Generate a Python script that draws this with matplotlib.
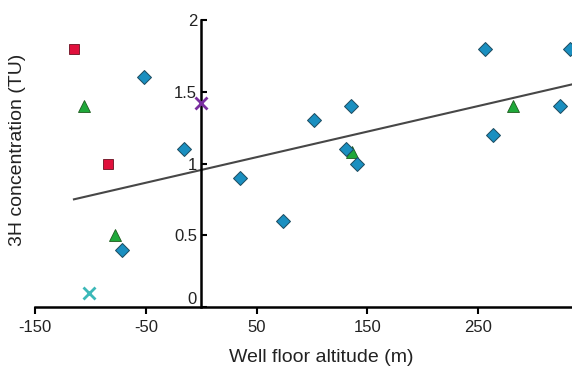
import matplotlib

matplotlib.use("Agg")
import matplotlib.pyplot as plt
import matplotlib.transforms as mtransforms

# well floor altitude (m) vs 3H concentration (TU), grouped by marker
diamond_x = [-52, -16, -72, 35, 74, 102, 135, 131, 141, 256, 264, 324, 333]
diamond_y = [1.6, 1.1, 0.4, 0.9, 0.6, 1.3, 1.4, 1.1, 1.0, 1.8, 1.2, 1.4, 1.8]
triangle_x = [-106, -78, 136, 282]
triangle_y = [1.4, 0.5, 1.08, 1.4]
square_x = [-115, -84]
square_y = [1.8, 1.0]
cross_purple = (0, 1.42)
cross_teal = (-101, 0.1)

# regression line end points
fit_x = [-115, 336]
fit_slope = 0.00178
fit_intercept = 0.955
fit_y = [fit_intercept + fit_slope * v for v in fit_x]

x_ticks = [-150, -50, 50, 150, 250]
y_ticks = [0, 0.5, 1, 1.5, 2]
y_tick_labels = ["0", "0.5", "1", "1.5", "2"]

plt.rcParams["font.family"] = ["Liberation Sans", "DejaVu Sans"]

fig = plt.figure(figsize=(5.72, 3.70), dpi=100)
ax = fig.add_axes([33 / 572, 1 - 307 / 370, 539 / 572, 287 / 370])
ax.set_xlim(-152, 335)
ax.set_ylim(0, 2)

ax.plot(fit_x, fit_y, color="#474747", lw=1.5, zorder=2)
ax.plot(triangle_x, triangle_y, "^", ms=8.8, color="#1fa83a",
        mec="#1e5a1e", mew=0.6, zorder=3)
ax.plot(diamond_x, diamond_y, "D", ms=7.4, color="#1a8fc0",
        mec="#1d4a5e", mew=0.7, zorder=4, clip_on=False)
ax.plot(square_x, square_y, "s", ms=7.4, color="#e0103c",
        mec="#6a1020", mew=0.6, zorder=3)
ax.plot(*cross_purple, "x", ms=8, mew=2, color="#7a2fa0", zorder=5,
        clip_on=False)
ax.plot(*cross_teal, "x", ms=8, mew=2, color="#3cb8b8", zorder=5)

for side in ("top", "right"):
    ax.spines[side].set_visible(False)
ax.spines["left"].set_position(("data", 0))
ax.spines["bottom"].set_position(("data", 0))
ax.spines["left"].set_linewidth(1.8)
ax.spines["bottom"].set_linewidth(1.8)
ax.spines["bottom"].set_bounds(-150, 335)

ax.set_xticks(x_ticks)
ax.set_xticklabels([str(v) for v in x_ticks])
ax.set_yticks(y_ticks)
ax.set_yticklabels(y_tick_labels)
ax.tick_params(axis="x", direction="out", length=5, width=1.5,
               labelsize=12, pad=4, labelcolor="#222222")
ax.tick_params(axis="y", direction="in", length=4, width=1.5,
               labelsize=12, pad=3, labelcolor="#222222")

# the "0" label sits a little above the x axis
zero_label = ax.get_yticklabels()[0]
zero_label.set_transform(zero_label.get_transform() +
                         mtransforms.ScaledTranslation(0, 9 / 100, fig.dpi_scale_trans))

fig.text(321 / 572, 1 - 357 / 370, "Well floor altitude (m)",
         ha="center", va="center", fontsize=14, color="#222222")
fig.text(18 / 572, 1 - 150 / 370, "3H concentration (TU)",
         ha="center", va="center", rotation=90, fontsize=14, color="#222222")

fig.savefig("out.png", dpi=100)
